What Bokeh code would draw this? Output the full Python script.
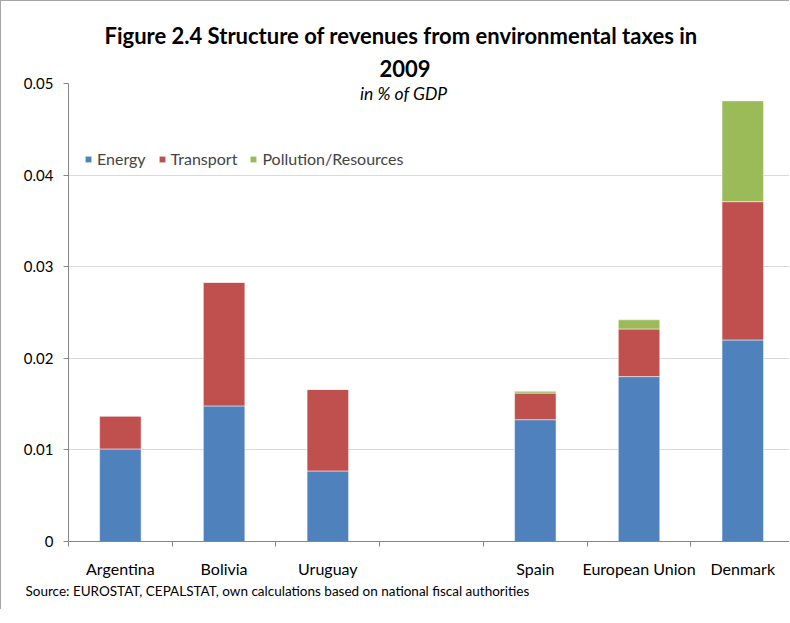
from bokeh.plotting import figure
from bokeh.models import ColumnDataSource, Label, FixedTicker, Range1d, Title
from bokeh.embed import file_html
from bokeh.resources import INLINE

# ---- data ----
categories = ["Argentina", "Bolivia", "Uruguay", "", "Spain", "European Union", "Denmark"]
energy = [0.0101, 0.0148, 0.0077, 0.0, 0.0133, 0.0180, 0.0220]
transport = [0.0036, 0.0135, 0.0089, 0.0, 0.0029, 0.0052, 0.0151]
pollution = [0.0, 0.0, 0.0, 0.0, 0.0002, 0.0010, 0.0110]
series_names = ["Energy", "Transport", "Pollution/Resources"]
y_ticks = [0.0, 0.01, 0.02, 0.03, 0.04, 0.05]
y_tick_labels = ["0", "0.01", "0.02", "0.03", "0.04", "0.05"]

title_line1 = "Figure 2.4 Structure of revenues from environmental taxes in"
title_line2 = "2009"
subtitle = "in % of GDP"
source_note = "Source: EUROSTAT, CEPALSTAT, own calculations based on national fiscal authorities"

colors = ["#4F81BD", "#C0504D", "#9BBB59"]
FONT = "Lato"

xs = list(range(len(categories)))
src = ColumnDataSource(dict(x=xs, energy=energy, transport=transport, pollution=pollution))

p = figure(width=789, height=609, output_backend="svg", toolbar_location=None,
           x_range=Range1d(-0.5, 6.46), y_range=Range1d(0, 0.05),
           min_border_left=67, min_border_right=0, min_border_top=82, min_border_bottom=69)
p.outline_line_color = None
p.background_fill_color = "white"
p.border_fill_color = "white"
p.styles = {"border-top": "1px solid #a6a6a6", "border-left": "1px solid #a6a6a6"}

# titles: p.title is the outer line, the added Title sits next to the frame
p.title.text = title_line1
p.title.align = "left"
p.title.offset = 36
p.title.text_font = FONT
p.title.text_font_style = "bold"
p.title.text_font_size = "22px"
p.title.text_color = "#000000"
p.title.standoff = 4
p.add_layout(Title(text=title_line2, align="left", offset=311, text_font=FONT, text_font_style="bold",
                   text_font_size="22px", text_color="#000000", standoff=14), "above")

# source note below the axis
p.add_layout(Title(text=source_note, align="left", offset=-43, text_font=FONT,
                   text_font_style="normal", text_font_size="13.5px", text_color="#000000",
                   standoff=1), "below")

p.vbar_stack(["energy", "transport", "pollution"], x="x", width=0.4, color=colors,
             source=src, legend_label=series_names,
             line_color="white", line_alpha=0.5, line_width=1)

# grid
p.xgrid.grid_line_color = None
p.ygrid.ticker = FixedTicker(ticks=y_ticks[1:])
p.ygrid.grid_line_color = "#D9D9D9"
p.ygrid.grid_line_width = 1

# y axis
p.yaxis.ticker = FixedTicker(ticks=y_ticks)
p.yaxis.major_label_overrides = {t: l for t, l in zip(y_ticks, y_tick_labels)}
p.yaxis.axis_line_color = "#868686"
p.yaxis.major_tick_line_color = "#868686"
p.yaxis.major_tick_out = 5
p.yaxis.major_tick_in = 0
p.yaxis.minor_tick_line_color = None
p.yaxis.major_label_standoff = 10
p.yaxis.major_label_text_font = FONT
p.yaxis.major_label_text_font_size = "15px"
p.yaxis.major_label_text_color = "#000000"

# x axis
bounds = [i - 0.5 for i in range(len(categories) + 1)]
p.xaxis.ticker = FixedTicker(ticks=xs, minor_ticks=bounds)
p.xaxis.major_label_overrides = {i: c for i, c in zip(xs, categories)}
p.xaxis.axis_line_color = "#868686"
p.xaxis.major_tick_out = 0
p.xaxis.major_tick_in = 0
p.xaxis.minor_tick_out = 5
p.xaxis.minor_tick_in = 0
p.xaxis.minor_tick_line_color = "#868686"
p.xaxis.major_label_standoff = 12
p.xaxis.major_label_text_font = FONT
p.xaxis.major_label_text_font_size = "16px"
p.xaxis.major_label_text_color = "#000000"

# legend
lg = p.legend[0]
lg.orientation = "horizontal"
lg.location = (16, 373)
lg.background_fill_alpha = 0
lg.border_line_alpha = 0
lg.padding = 0
lg.margin = 0
lg.spacing = 12
lg.glyph_width = 8
lg.glyph_height = 8
lg.label_standoff = 5
lg.label_text_font = FONT
lg.label_text_font_size = "16px"
lg.label_height = 16


# helper: page pixel -> data coordinates
def dx(px):
    return -0.5 + (px - 67.6) / 103.8


def dy(py):
    return (541 - py) / 9160.0


p.add_layout(Label(x=dx(403), y=dy(93), text=subtitle, text_font=FONT, text_font_style="italic",
                   text_font_size="17.5px", text_align="center", text_baseline="middle", text_color="#000000"))

open("out.html", "w").write(file_html(p, INLINE))
